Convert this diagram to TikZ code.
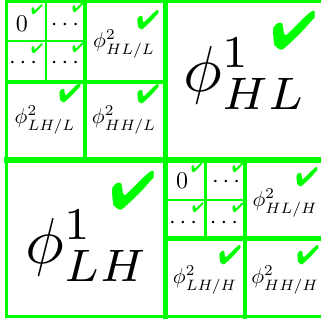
\documentclass[tikz,border=0pt]{standalone}
\usepackage{graphicx}
\usepackage{pifont}
\tikzset{
  gl/.style={draw={rgb,255:red,0;green,255;blue,0}, line cap=rect},
  chkS/.style={text={rgb,255:red,0;green,255;blue,0}, inner sep=0, font=\fontsize{14}{15}\selectfont},
  chkM/.style={text={rgb,255:red,0;green,255;blue,0}, inner sep=0, font=\fontsize{27}{29}\selectfont},
  chkL/.style={text={rgb,255:red,0;green,255;blue,0}, inner sep=0, font=\fontsize{54}{58}\selectfont},
  cell/.style={inner sep=0},
  lab/.style={inner sep=0},
  biglab/.style={inner sep=0},
}
\newcommand{\cellt}[1]{\scalebox{2.4}{$#1$}}
\newcommand{\labt}[1]{\scalebox{2.15}{$#1$}}
\newcommand{\bigt}[1]{\scalebox{6.5}{$#1$}}
\begin{document}
\begin{tikzpicture}[x=1pt,y=-1pt]
\useasboundingbox (0,0) rectangle (321,325);
\clip (0,0) rectangle (321,325);
% outer frame
\draw[gl, line width=3] (6.5,-5) -- (6.5,316.8);
\draw[gl, line width=3] (6.5,1.2) -- (330,1.2);
\draw[gl, line width=3] (6.5,316.8) -- (330,316.8);
% main cross
\draw[gl, line width=5] (165.5,-5) -- (165.5,316.8);
\draw[gl, line width=6] (6.5,159.5) -- (330,159.5);
% top-left quadrant
\draw[gl, line width=4] (85.5,1.2) -- (85.5,159.5);
\draw[gl, line width=4] (6.5,81.5) -- (165.5,81.5);
\draw[gl, line width=2.5] (46,1.2) -- (46,81.5);
\draw[gl, line width=2.5] (6.5,41) -- (85.5,41);
% bottom-right quadrant
\draw[gl, line width=4] (245,159.5) -- (245,316.8);
\draw[gl, line width=5] (165.5,238.5) -- (330,238.5);
\draw[gl, line width=2.5] (205.5,159.5) -- (205.5,238.5);
\draw[gl, line width=2.5] (165.5,200) -- (245,200);
% top-left texts
\node[cell] (z1) at (22,24) {\cellt{0}};
\node[cell] (d1) at (65,25) {\cellt{\cdots}};
\node[cell] (d2) at (23,63) {\cellt{\cdots}};
\node[cell] (d3) at (65,63) {\cellt{\cdots}};
\node[lab] (hll) at (124,44) {\labt{\phi^2_{HL/L}}};
\node[lab] (lhl) at (45,120) {\labt{\phi^2_{LH/L}}};
\node[lab] (hhl) at (124,120) {\labt{\phi^2_{HH/L}}};
\node[biglab] (hl) at (245,74) {\bigt{\phi^1_{HL}}};
\node[biglab] (lh) at (87,246) {\bigt{\phi^1_{LH}}};
% bottom-right texts
\node[cell] (z2) at (182,181) {\cellt{0}};
\node[cell] (d4) at (226,182) {\cellt{\cdots}};
\node[cell] (d5) at (183,223) {\cellt{\cdots}};
\node[cell] (d6) at (224,223) {\cellt{\cdots}};
\node[lab] (hlh) at (285,203) {\labt{\phi^2_{HL/H}}};
\node[lab] (lhh) at (205,280) {\labt{\phi^2_{LH/H}}};
\node[lab] (hhh) at (285,280) {\labt{\phi^2_{HH/H}}};
% checks
\node[chkS] (c1) at (37,10) {\ding{52}};
\node[chkS] (c2) at (78,8) {\ding{52}};
\node[chkS] (c3) at (37,49) {\ding{52}};
\node[chkS] (c4) at (78,48) {\ding{52}};
\node[chkM] (c5) at (148,20) {\ding{52}};
\node[chkM] (c6) at (70,93) {\ding{52}};
\node[chkM] (c7) at (148,94) {\ding{52}};
\node[chkL] (c8) at (294,31) {\ding{52}};
\node[chkL] (c9) at (133,191) {\ding{52}};
\node[chkS] (c10) at (197,168) {\ding{52}};
\node[chkS] (c11) at (238,168) {\ding{52}};
\node[chkS] (c12) at (198,208) {\ding{52}};
\node[chkS] (c13) at (238,208) {\ding{52}};
\node[chkM] (c14) at (307,177) {\ding{52}};
\node[chkM] (c15) at (230,255) {\ding{52}};
\node[chkM] (c16) at (308,255) {\ding{52}};
\end{tikzpicture}
\end{document}
